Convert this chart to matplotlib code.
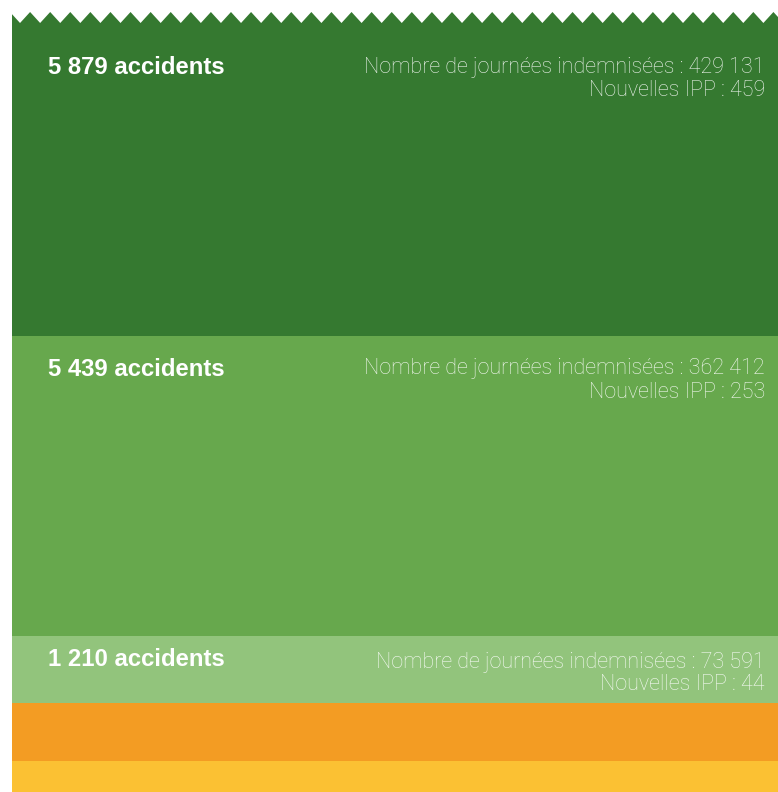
import numpy as np
import matplotlib.pyplot as plt
from matplotlib.patches import Polygon

# band values (accidents), top to bottom; the last two bands are cut off in the source
accidents = [5879, 5439, 1210, 1046, 1000]
labels = ["5 879 accidents", "5 439 accidents", "1 210 accidents", None, None]
journees = ["429 131", "362 412", "73 591", None, None]
ipp = ["459", "253", "44", None, None]
colors = ["#357930", "#67a84d", "#92c47c", "#f39c23", "#fbc133"]

W, H = 778, 792
scale = 300 / 5439          # pixels per accident
top_px = 12

fig = plt.figure(figsize=(W / 100, H / 100), dpi=100)
ax = fig.add_axes([0, 0, 1, 1])
ax.set_xlim(0, W)
ax.set_ylim((H - top_px) / scale, -top_px / scale)
ax.axis("off")

bottoms = np.concatenate([[0], np.cumsum(accidents)[:-1]])
ax.bar(12 + 766 / 2, accidents, width=766, bottom=bottoms, color=colors,
       linewidth=0, align="center")

# zigzag break at the top
depth = 11 / scale
xs = np.arange(10, W + 21, 20.09)
pts = [(0, -top_px / scale), (0, 0)]
for x in xs:
    pts.append((x - 10.05, depth))
    pts.append((x, 0))
pts.append((W + 30, -top_px / scale))
ax.add_patch(Polygon(pts, closed=True, facecolor="white", edgecolor="none", zorder=3))

# text offsets below each band top (pixels): label, line 1, line 2
lab_off = [56, 33, 23]
l1_off = [55, 32, 26]
l2_off = [79, 56, 48]

for i in range(3):
    y0 = bottoms[i]
    ax.text(48, y0 + lab_off[i] / scale, labels[i], color="white",
            fontsize=17.2, fontweight="bold", family="Liberation Sans",
            ha="left", va="center")
    ax.text(765, y0 + l1_off[i] / scale,
            "Nombre de journées indemnisées : " + journees[i],
            color="white", alpha=0.9, fontsize=15.5, fontweight="light",
            family="Roboto", ha="right", va="center")
    ax.text(765, y0 + l2_off[i] / scale, "Nouvelles IPP : " + ipp[i],
            color="white", alpha=0.9, fontsize=15.5, fontweight="light",
            family="Roboto", ha="right", va="center")

fig.savefig("out.png", dpi=100, facecolor="white")
